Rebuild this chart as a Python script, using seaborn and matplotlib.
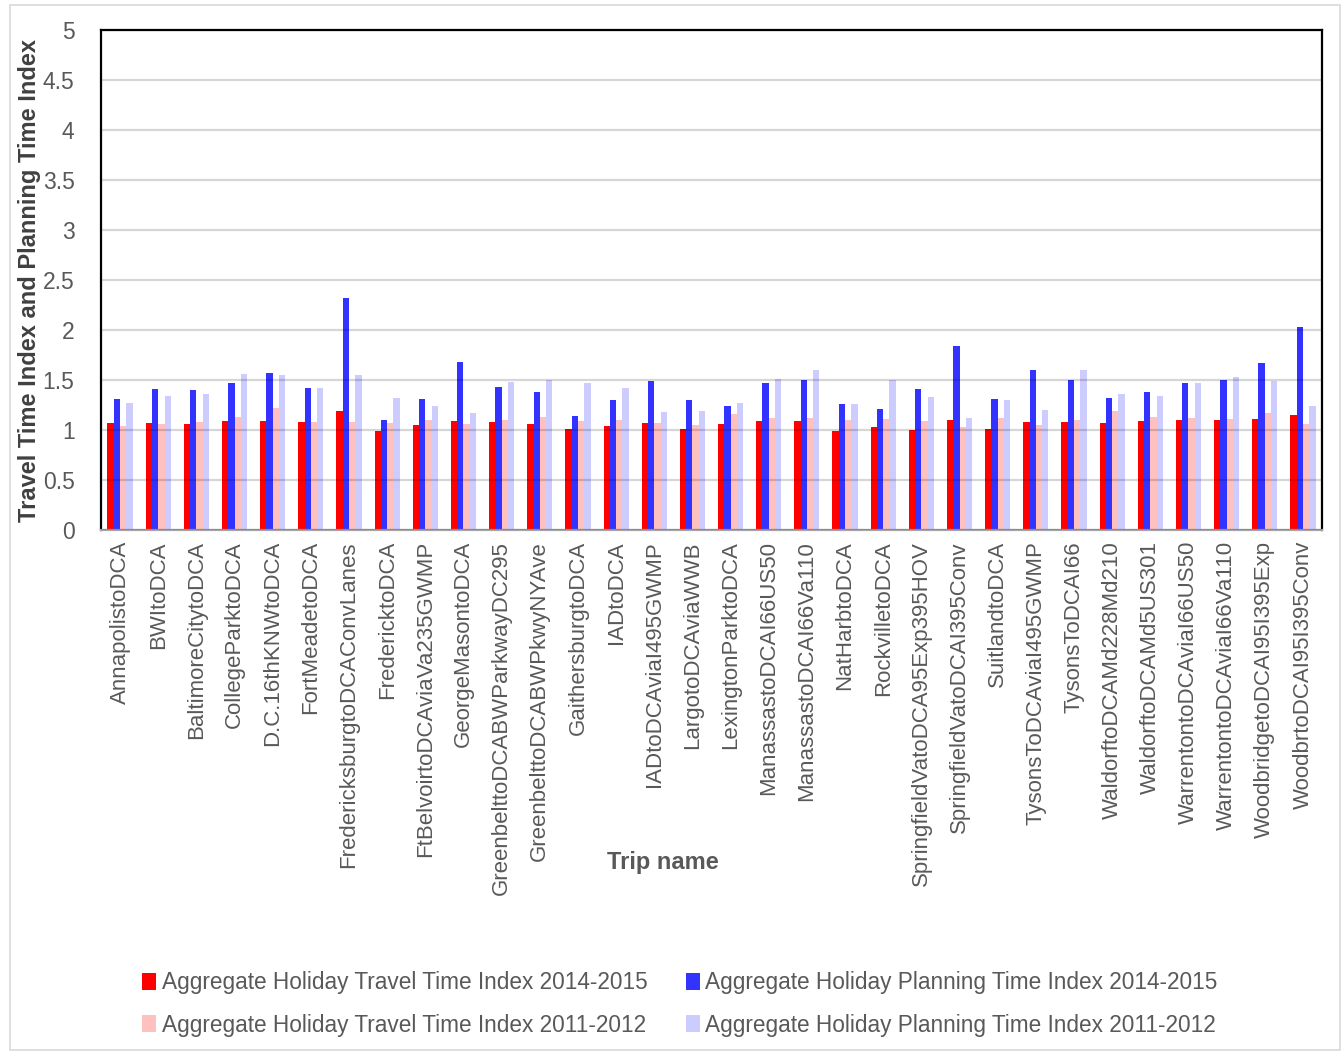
import matplotlib
matplotlib.use("Agg")
import matplotlib.pyplot as plt
from matplotlib.patches import Rectangle, Patch
import seaborn as sns
import pandas as pd

trips = [
    "AnnapolistoDCA", "BWItoDCA", "BaltimoreCitytoDCA", "CollegeParktoDCA",
    "D.C.16thKNWtoDCA", "FortMeadetoDCA", "FredericksburgtoDCAConvLanes",
    "FredericktoDCA", "FtBelvoirtoDCAviaVa235GWMP", "GeorgeMasontoDCA",
    "GreenbelttoDCABWParkwayDC295", "GreenbelttoDCABWPkwyNYAve",
    "GaithersburgtoDCA", "IADtoDCA", "IADtoDCAviaI495GWMP", "LargotoDCAviaWWB",
    "LexingtonParktoDCA", "ManassastoDCAI66US50", "ManassastoDCAI66Va110",
    "NatHarbtoDCA", "RockvilletoDCA", "SpringfieldVatoDCA95Exp395HOV",
    "SpringfieldVatoDCAI395Conv", "SuitlandtoDCA", "TysonsToDCAviaI495GWMP",
    "TysonsToDCAI66", "WaldorftoDCAMd228Md210", "WaldorftoDCAMd5US301",
    "WarrentontoDCAviaI66US50", "WarrentontoDCAviaI66Va110",
    "WoodbridgetoDCAI95I395Exp", "WoodbrtoDCAI95I395Conv",
]

tti_2014 = [1.07, 1.07, 1.06, 1.09, 1.09, 1.08, 1.19, 0.99, 1.05, 1.09, 1.08,
            1.06, 1.01, 1.04, 1.07, 1.01, 1.06, 1.09, 1.09, 0.99, 1.03, 1.00,
            1.10, 1.01, 1.08, 1.08, 1.07, 1.09, 1.10, 1.10, 1.11, 1.15]
pti_2014 = [1.31, 1.41, 1.40, 1.47, 1.57, 1.42, 2.32, 1.10, 1.31, 1.68, 1.43,
            1.38, 1.14, 1.30, 1.49, 1.30, 1.24, 1.47, 1.50, 1.26, 1.21, 1.41,
            1.84, 1.31, 1.60, 1.50, 1.32, 1.38, 1.47, 1.50, 1.67, 2.03]
tti_2011 = [1.04, 1.06, 1.08, 1.13, 1.22, 1.08, 1.08, 1.07, 1.10, 1.06, 1.10,
            1.13, 1.09, 1.10, 1.07, 1.05, 1.16, 1.12, 1.12, 1.10, 1.11, 1.09,
            1.03, 1.12, 1.05, 1.10, 1.19, 1.13, 1.12, 1.11, 1.17, 1.06]
pti_2011 = [1.27, 1.34, 1.36, 1.56, 1.55, 1.42, 1.55, 1.32, 1.24, 1.17, 1.48,
            1.50, 1.47, 1.42, 1.18, 1.19, 1.27, 1.51, 1.60, 1.26, 1.50, 1.33,
            1.12, 1.30, 1.20, 1.60, 1.36, 1.34, 1.47, 1.53, 1.49, 1.24]

series_names = [
    "Aggregate Holiday Travel Time Index 2014-2015",
    "Aggregate Holiday Planning Time Index 2014-2015",
    "Aggregate Holiday Travel Time Index 2011-2012",
    "Aggregate Holiday Planning Time Index 2011-2012",
]
series_values = [tti_2014, pti_2014, tti_2011, pti_2011]
colors = ["#FF0000", "#3333FF", "#FFC0C0", "#CCCCFF"]

rows = []
for name, vals in zip(series_names, series_values):
    for trip, v in zip(trips, vals):
        rows.append({"Trip name": trip, "Series": name, "Value": v})
df = pd.DataFrame(rows)

sns.set_theme(style="white")
plt.rcParams["font.family"] = ["Liberation Sans", "DejaVu Sans"]

W, H = 1344, 1053
fig = plt.figure(figsize=(W / 100, H / 100), dpi=100)
ax = fig.add_axes([101 / W, 1 - 530 / H, (1322 - 101) / W, 500 / H])

sns.barplot(data=df, x="Trip name", y="Value", hue="Series",
            order=trips, hue_order=series_names, palette=colors,
            width=0.66, linewidth=0, saturation=1, legend=False, ax=ax,
            errorbar=None)

ax.set_xlim(-0.5, len(trips) - 0.5)
ax.set_ylim(0, 5)
ax.set_yticks([i * 0.5 for i in range(11)])
ax.set_yticklabels(["0", "0.5", "1", "1.5", "2", "2.5", "3", "3.5", "4", "4.5", "5"])

# horizontal grid drawn over the bars
ax.set_axisbelow(False)
ax.yaxis.grid(True, color="black", alpha=0.16, linewidth=1.6)
ax.xaxis.grid(False)

ax.tick_params(axis="y", labelsize=16.5, labelcolor="#595959", length=0, pad=19)
ax.tick_params(axis="x", labelsize=16, labelcolor="#595959", length=0,
               pad=8, labelrotation=90)

for side in ["left", "top", "right"]:
    ax.spines[side].set_color("black")
    ax.spines[side].set_linewidth(1.6)
ax.spines["bottom"].set_color("#A6A6A6")
ax.spines["bottom"].set_linewidth(1.6)

ax.set_ylabel("Travel Time Index and Planning Time Index", fontsize=17,
              fontweight="bold", color="#404040")
ax.yaxis.set_label_coords((30 - 101) / (1322 - 101), 0.5)
ax.yaxis.label.set_va("center")
ax.set_xlabel("Trip name", fontsize=17, fontweight="bold", color="#595959")
ax.xaxis.set_label_coords((663 - 101) / (1322 - 101), (530 - 862) / 500)
ax.xaxis.label.set_va("center")

# legend: two rows, two columns
handles = [Patch(facecolor=c, edgecolor="none") for c in colors]
order = [0, 2, 1, 3]
fig.legend([handles[i] for i in order], [series_names[i] for i in order],
           loc="center", bbox_to_anchor=(680 / W, 1 - 1004 / H), ncol=2,
           frameon=False,
           prop={"family": ["Liberation Sans", "DejaVu Sans"], "size": 16.3},
           handlelength=0.6, handleheight=0.75, handletextpad=0.25,
           columnspacing=1.7, labelspacing=0.85, labelcolor="#595959")

# thin outer border of the chart area
fig.patches.append(Rectangle((10 / W, 3 / H), 1330 / W, 1045 / H,
                             transform=fig.transFigure, fill=False,
                             edgecolor="#D9D9D9", linewidth=1.2))

fig.savefig("out.png", dpi=100)
